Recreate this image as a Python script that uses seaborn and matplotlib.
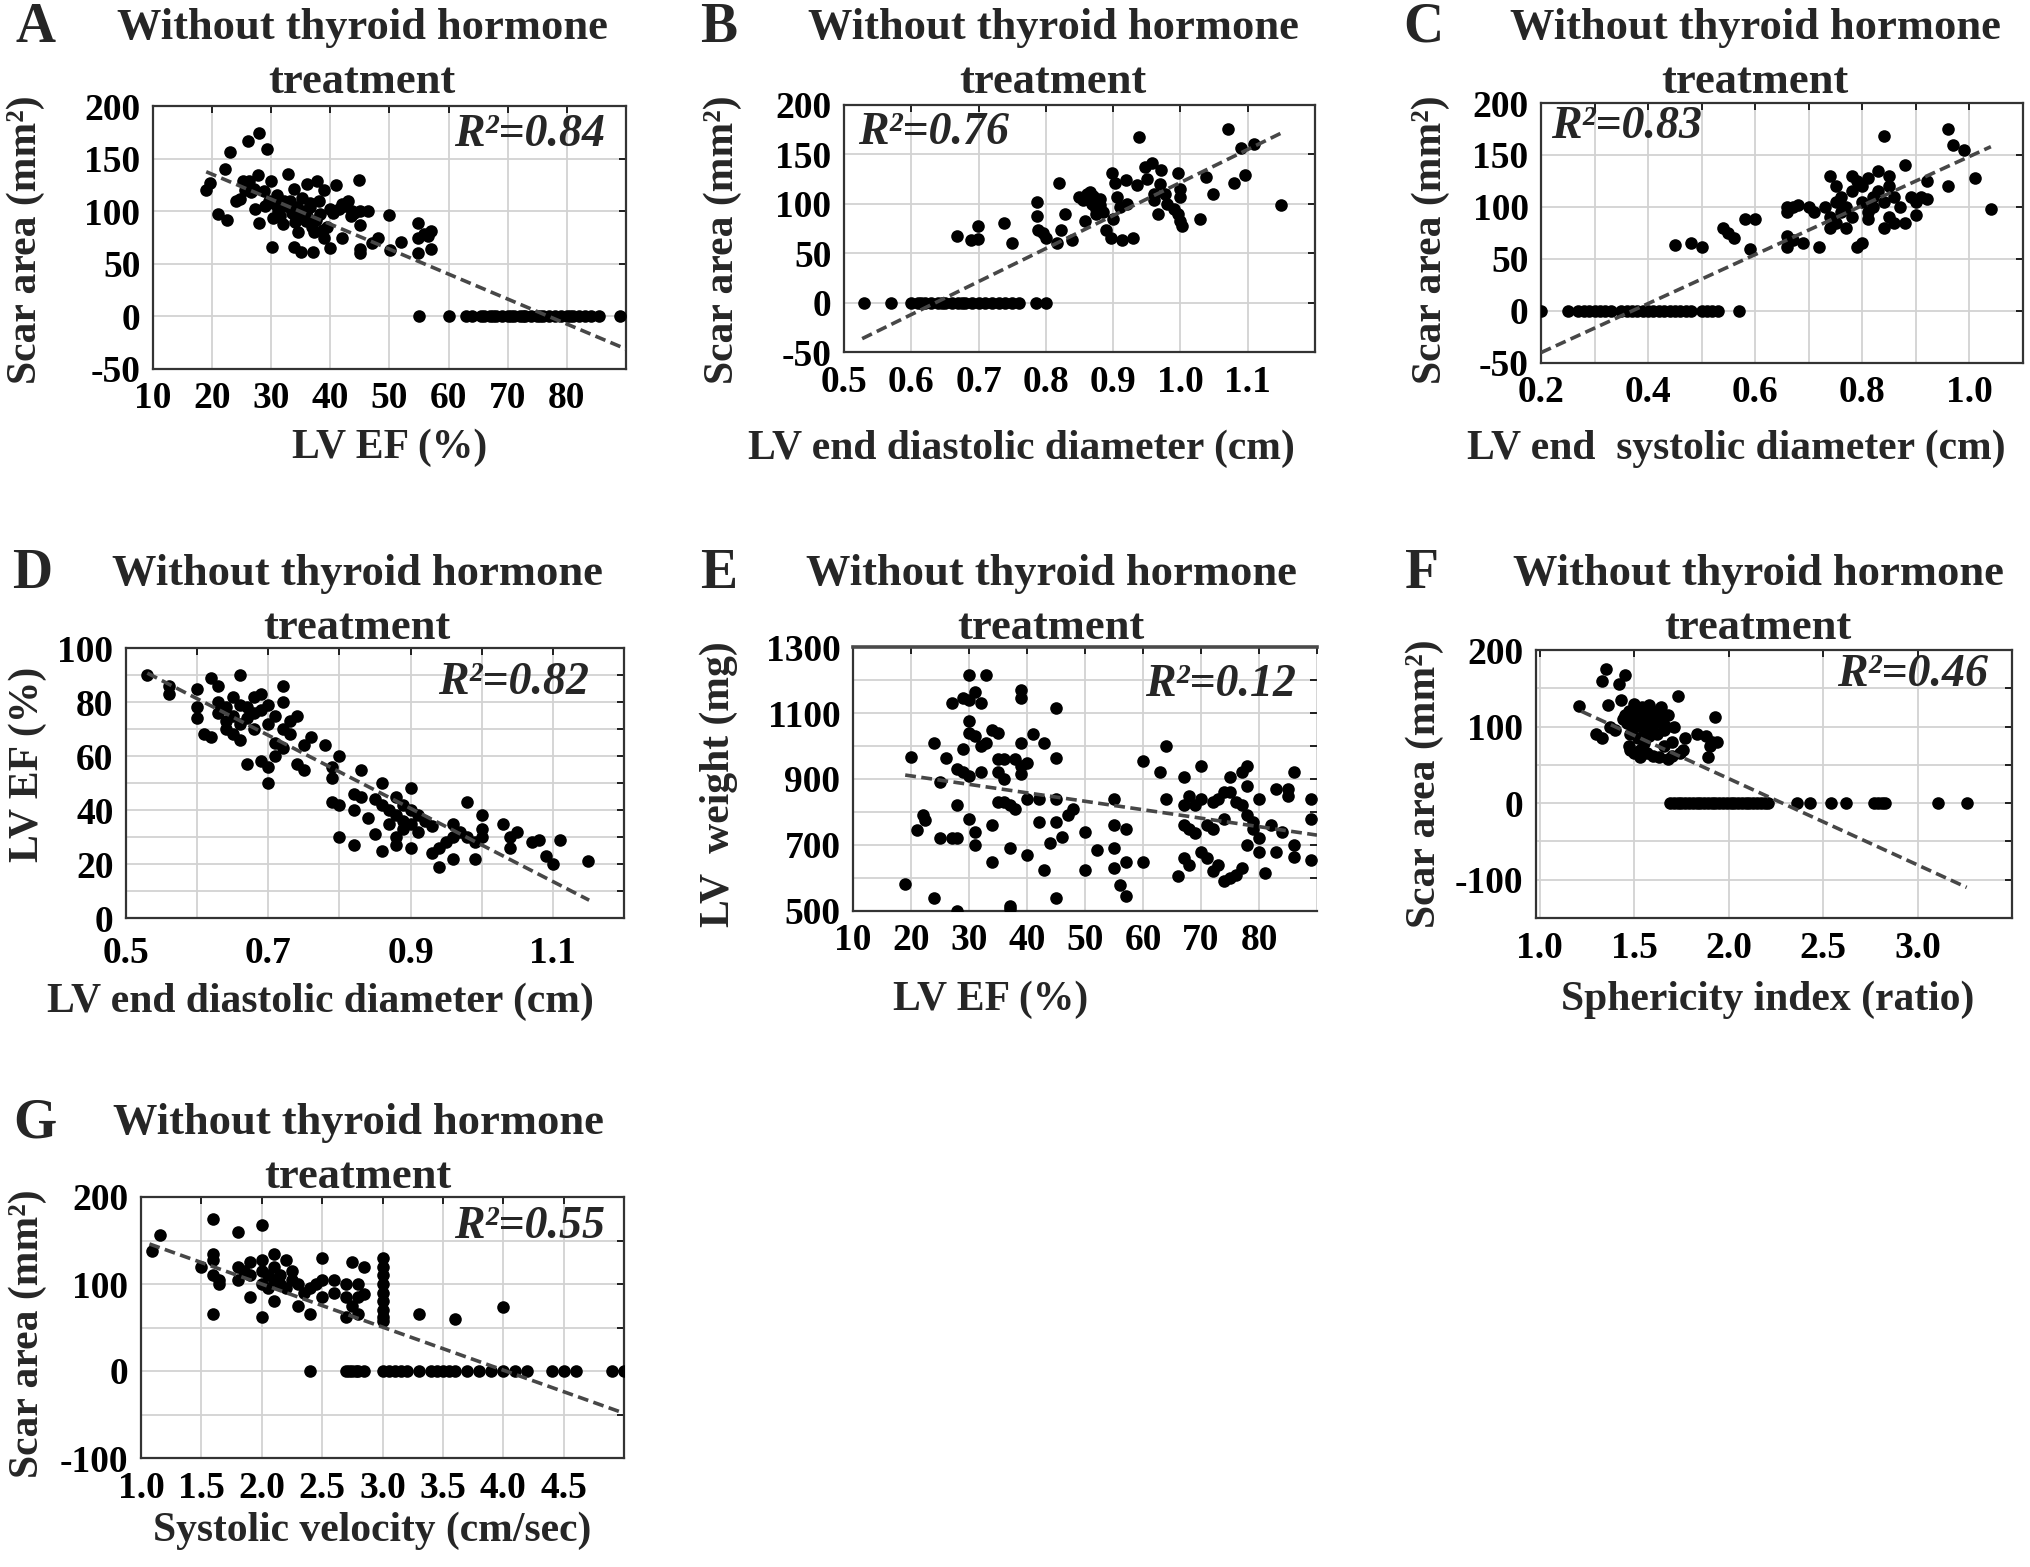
import numpy as np
import pandas as pd
import matplotlib
matplotlib.use("Agg")
import matplotlib.pyplot as plt
import seaborn as sns

# ------------------------------------------------------------------ data
# Panel A: LV EF (%) vs scar area (mm2)
A_pts = [(18.9,120),(19.6,127),(21.0,97),(22.6,92),(22.1,140),(23.1,156),(26.0,167),(28.0,174),
         (29.2,159),(24.1,110),(24.7,112),(25.2,129),(26.2,129),(27.0,121),(27.8,134),(27.3,102),
         (28.0,89),(28.8,119),(29.6,110),(30.0,129),(30.1,66),(30.3,94),(30.7,107),(31.2,100),
         (32.0,88),(32.1,110),(32.9,135),(33.1,110),(33.8,121),(33.9,66),(34.4,104),(34.8,94),
         (35.0,61),(35.2,113),(35.8,91),(36.1,126),(36.6,104),(36.9,85),(37.1,61),(37.2,80),
         (37.8,129),(38.3,97),(38.8,82),(39.0,120),(39.5,85),(39.9,102),(40.0,65),(41.0,125),
         (42.0,107),(42.0,75),(43.0,110),(43.7,100),(44.8,130),(45.0,100),(45.0,87),(45.0,64),
         (45.0,60),(46.3,100),(47.1,70),(48.0,75),(49.9,96),(50.1,63),(52.0,71),(54.9,89),
         (54.9,60),(54.9,75),(55.8,78),(57.0,81),(57.0,64),(56.5,76),(25.5,120),(26.5,118),
         (29.0,105),(31.0,115),(31.5,95),(32.5,105),(33.5,98),(34.0,90),(35.5,100),(36.0,95),
         (37.5,92),(38.0,110),(39.0,75),(40.5,98),(41.5,102),(42.5,105),(43.5,95),(44.0,98),
         (36.5,108),(34.5,80)]
A_zero_x = [55,60,63,64,65.5,66,67,67.5,68,69,70,70.5,71,72,72.5,73,74,75,75.5,76,77,78,79,80,
            80.5,81,82,83,84,85.5,89]
A_fit_x = [19.0, 90.0]
A_fit_y = [137.5, -31.0]

# Panel B: LV end diastolic diameter (cm) vs scar area
B_pts = [(0.668,67),(0.689,63),(0.699,78),(0.699,64),(0.738,81),(0.749,60),(0.787,102),(0.787,88),
         (0.789,73),(0.796,70),(0.800,65),(0.820,121),(0.823,73),(0.816,60),(0.829,90),(0.839,63),
         (0.849,107),(0.855,104),(0.861,110),(0.868,100),(0.858,83),(0.874,90),(0.881,99),(0.890,73),
         (0.897,65),(0.899,131),(0.903,121),(0.906,107),(0.910,97),(0.913,63),(0.919,124),(0.929,65),
         (0.935,119),(0.939,168),(0.948,137),(0.958,141),(0.961,104),(0.967,90),(0.971,134),(0.977,110),
         (0.996,131),(1.000,107),(0.996,90),(1.000,83),(1.003,78),(1.029,85),(1.038,127),(1.048,110),
         (1.070,176),(1.079,121),(1.090,156),(1.096,129),(1.109,161),(1.150,99),(0.860,105),(0.865,112),
         (0.870,108),(0.875,95),(0.880,105),(0.885,92),(0.900,85),(0.950,125),(0.960,110),(0.970,120),
         (0.980,100),(0.990,95),(1.000,115),(0.920,100)]
B_zero_x = [0.53,0.57,0.60,0.61,0.615,0.62,0.63,0.64,0.645,0.65,0.66,0.67,0.675,0.68,0.69,0.70,
            0.71,0.72,0.73,0.74,0.75,0.76,0.785,0.80]
B_fit_x = [0.527, 1.154]
B_fit_y = [-36.5, 173.0]

# Panel C: LV end systolic diameter (cm) vs scar area
C_pts = [(0.45,63),(0.48,65),(0.50,62),(0.54,80),(0.55,75),(0.56,70),(0.58,88),(0.60,88),(0.59,60),
         (0.66,100),(0.66,95),(0.66,72),(0.66,62),(0.67,100),(0.67,68),(0.68,102),(0.69,65),(0.70,100),
         (0.71,95),(0.72,62),(0.73,100),(0.74,130),(0.74,90),(0.74,80),(0.75,120),(0.75,105),(0.75,85),
         (0.76,95),(0.76,110),(0.77,100),(0.77,80),(0.78,130),(0.78,115),(0.78,90),(0.79,125),(0.79,62),
         (0.80,65),(0.80,105),(0.80,120),(0.81,128),(0.81,95),(0.81,88),(0.82,110),(0.82,100),(0.83,135),
         (0.83,115),(0.84,168),(0.84,80),(0.84,105),(0.85,130),(0.85,120),(0.85,90),(0.86,110),(0.86,85),
         (0.87,100),(0.88,140),(0.88,85),(0.89,110),(0.90,92),(0.90,105),(0.91,110),(0.92,108),(0.92,125),
         (0.96,175),(0.96,120),(0.97,160),(0.99,155),(1.01,128),(1.04,98)]
C_zero_x = [0.20,0.25,0.27,0.28,0.29,0.30,0.31,0.32,0.33,0.35,0.36,0.37,0.38,0.39,0.40,0.41,0.42,
            0.43,0.44,0.45,0.46,0.47,0.48,0.50,0.51,0.52,0.53,0.57]
C_fit_x = [0.20, 1.04]
C_fit_y = [-40.0, 158.0]

# Panel D: LV end diastolic diameter (cm) vs LV EF (%)
D_pts = [(0.53,90),(0.56,86),(0.56,83),(0.60,85),(0.60,78),(0.60,74),(0.61,68),(0.62,89),(0.62,67),
         (0.63,86),(0.63,80),(0.63,76),(0.64,78),(0.64,73),(0.64,70),(0.65,82),(0.65,75),(0.65,68),
         (0.66,90),(0.66,79),(0.66,72),(0.66,66),(0.67,78),(0.67,74),(0.67,57),(0.68,82),(0.68,76),
         (0.68,70),(0.69,83),(0.69,77),(0.69,58),(0.70,79),(0.70,72),(0.70,56),(0.70,50),(0.71,75),
         (0.71,65),(0.71,60),(0.72,86),(0.72,80),(0.72,70),(0.72,63),(0.73,73),(0.73,68),(0.74,75),
         (0.74,57),(0.75,55),(0.75,64),(0.76,67),(0.78,64),(0.79,56),(0.79,52),(0.80,60),(0.79,43),
         (0.80,42),(0.80,30),(0.82,46),(0.82,40),(0.82,27),(0.83,55),(0.83,45),(0.84,37),(0.85,31),
         (0.85,44),(0.86,50),(0.86,42),(0.86,25),(0.87,40),(0.87,35),(0.88,45),(0.88,38),(0.88,30),
         (0.88,27),(0.89,42),(0.89,36),(0.89,33),(0.90,48),(0.90,40),(0.90,35),(0.90,26),(0.91,38),
         (0.91,32),(0.92,36),(0.93,34),(0.93,24),(0.94,26),(0.94,19),(0.95,28),(0.96,35),(0.96,30),
         (0.96,22),(0.97,32),(0.98,43),(0.98,30),(0.99,22),(0.99,28),(1.00,38),(1.00,33),(1.00,30),
         (1.03,35),(1.04,26),(1.04,30),(1.05,32),(1.07,28),(1.08,29),(1.09,23),(1.10,20),(1.11,29),
         (1.15,21)]
D_fit_x = [0.53, 1.151]
D_fit_y = [90.7, 6.6]

# Panel E: LV EF (%) vs LV weight (mg)
E_pts = [(19,583),(20,968),(21,745),(22,790),(22.5,775),(24,1010),(24,540),(25,890),(25,720),(26,965),
         (27,1130),(27,720),(28,720),(28,930),(28,820),(28,500),(29,1145),(29,990),(29,920),(30,1215),
         (30,1140),(30,1075),(30,1040),(30,910),(30,780),(31,1165),(31,1030),(31,740),(31,700),(32,1130),
         (32,1000),(32,920),(33,1215),(33,1010),(34,1050),(34,760),(34,650),(35,1040),(35,960),(35,920),
         (35,830),(36,960),(36,900),(36,830),(37,820),(37,690),(37,515),(37,505),(38,960),(38,810),
         (39,1170),(39,1145),(39,1010),(39,940),(39,915),(40,950),(40,840),(40,670),(41,1035),(42,840),
         (42,770),(43,1010),(43,625),(44,705),(45,1115),(45,965),(45,840),(45,770),(45,540),(46,725),
         (47,790),(48,810),(50,740),(50,625),(52,685),(55,840),(55,760),(55,690),(55,630),(56,580),
         (57,545),(57,750),(57,650),(60,955),(60,650),(63,920),(64,1000),(64,840),(66,605),(67,905),
         (67,820),(67,760),(67,660),(68,850),(68,750),(68,640),(69,820),(69,735),(70,940),(70,840),
         (70,680),(71,760),(71,660),(72,830),(72,750),(72,620),(73,840),(73,640),(74,860),(74,780),
         (74,590),(75,905),(75,860),(75,600),(76,830),(76,610),(77,920),(77,820),(77,630),(78,940),
         (78,880),(78,790),(78,700),(79,770),(79,750),(80,840),(80,720),(80,680),(81,615),(82,760),
         (83,870),(83,680),(84,740),(85,870),(85,850),(86,920),(86,700),(86,665),(89,840),(89,780),
         (89,655)]
E_fit_x = [19.0, 90.0]
E_fit_y = [912.0, 730.0]

# Panel F: sphericity index (ratio) vs scar area
F_pts = [(1.21,127),(1.30,90),(1.33,160),(1.35,175),(1.36,128),(1.33,85),(1.37,100),(1.40,95),
         (1.42,155),(1.45,168),(1.43,135),(1.45,115),(1.46,105),(1.47,75),(1.48,90),(1.49,120),
         (1.50,100),(1.50,130),(1.51,110),(1.52,85),(1.53,70),(1.54,125),(1.55,105),(1.55,95),
         (1.56,115),(1.57,65),(1.58,128),(1.59,100),(1.60,120),(1.61,110),(1.62,90),(1.63,60),
         (1.64,125),(1.65,105),(1.66,95),(1.66,75),(1.68,115),(1.70,80),(1.71,100),(1.73,140),
         (1.74,65),(1.76,70),(1.77,85),(1.83,90),(1.88,88),(1.89,60),(1.90,75),(1.91,80),(1.93,112),
         (1.94,80),(1.44,110),(1.47,120),(1.52,118),(1.57,112),(1.60,102),(1.63,118),(1.67,100),
         (1.58,88),(1.55,78),(1.48,70),(1.50,65),(1.53,60),(1.60,62),(1.68,58),(1.70,62)]
F_zero_x = [1.69,1.71,1.73,1.75,1.77,1.79,1.81,1.83,1.85,1.87,1.89,1.91,1.93,1.95,1.97,1.99,2.01,
            2.03,2.05,2.07,2.09,2.11,2.13,2.15,2.17,2.19,2.21,2.36,2.43,2.54,2.62,2.77,2.79,2.81,
            2.83,3.11,3.26]
F_fit_x = [1.22, 3.26]
F_fit_y = [120.0, -110.0]

# Panel G: systolic velocity (cm/sec) vs scar area
G_pts = [(1.09,138),(1.16,156),(1.5,120),(1.6,175),(1.6,135),(1.6,128),(1.6,110),(1.6,65),(1.65,100),
         (1.65,105),(1.8,160),(1.8,120),(1.8,105),(1.85,115),(1.9,125),(1.9,85),(1.9,110),(2.0,168),
         (2.0,128),(2.0,115),(2.0,100),(2.0,62),(2.05,110),(2.05,95),(2.1,135),(2.1,120),(2.1,105),
         (2.1,80),(2.15,110),(2.15,100),(2.2,95),(2.2,128),(2.25,115),(2.25,105),(2.3,100),(2.3,75),
         (2.35,90),(2.4,95),(2.4,65),(2.45,100),(2.5,130),(2.5,105),(2.5,85),(2.6,105),(2.6,90),
         (2.7,100),(2.7,85),(2.7,62),(2.75,125),(2.75,75),(2.8,100),(2.8,85),(2.8,65),(2.85,120),
         (2.85,88),(3.0,130),(3.0,120),(3.0,110),(3.0,100),(3.0,90),(3.0,80),(3.0,70),(3.0,62),
         (3.0,57),(3.3,65),(3.6,60),(4.0,73)]
G_zero_x = [2.4,2.7,2.72,2.75,2.78,2.8,2.85,3.0,3.05,3.1,3.15,3.2,3.3,3.4,3.45,3.5,3.55,3.6,3.7,
            3.8,3.9,4.0,4.1,4.2,4.4,4.5,4.6,4.9,5.0]
G_fit_x = [1.07, 5.0]
G_fit_y = [146.0, -48.5]

R2_labels = {"A": "R²=0.84", "B": "R²=0.76", "C": "R²=0.83", "D": "R²=0.82",
             "E": "R²=0.12", "F": "R²=0.46", "G": "R²=0.55"}

# ------------------------------------------------------------------ style
sns.set_theme(style="white")
plt.rcParams["font.family"] = ["Liberation Serif", "DejaVu Serif"]
plt.rcParams["font.weight"] = "bold"
plt.rcParams["axes.labelweight"] = "bold"

W, H = 2031, 1567
fig = plt.figure(figsize=(W / 100, H / 100), dpi=100)


def make_ax(l, t, r, b):
    return fig.add_axes([l / W, 1 - b / H, (r - l) / W, (b - t) / H])


def frame(pts, zeros=None):
    xs = [p[0] for p in pts]
    ys = [p[1] for p in pts]
    if zeros is not None:
        xs = xs + list(zeros)
        ys = ys + [0.0] * len(zeros)
    return pd.DataFrame({"x": xs, "y": ys})


def draw(ax, pts, zeros, fit_x, fit_y):
    d = frame(pts, zeros)
    sns.scatterplot(data=d, x="x", y="y", ax=ax, color="black", s=82,
                    linewidth=0, legend=False, zorder=3)
    ax.plot(fit_x, fit_y, color="#474747", lw=2.6, linestyle=(0, (3.0, 1.5)), zorder=4)


def style(ax, xlim, ylim, xgrid, xlabels, ygrid, ylabels, xpad=9):
    ax.set_xlim(*xlim)
    ax.set_ylim(*ylim)
    ax.set_xticks(xgrid)
    ax.set_xticklabels(xlabels)
    ax.set_yticks(ygrid)
    ax.set_yticklabels(ylabels)
    ax.grid(True, color="#d2d2d2", lw=1.3)
    ax.set_axisbelow(True)
    ax.tick_params(direction="in", length=5, width=1.2, top=True, right=True,
                   labelsize=27, pad=9, colors="black")
    ax.tick_params(axis="x", pad=xpad)
    for sp in ax.spines.values():
        sp.set_color("#333333")
        sp.set_linewidth(1.6)
    ax.set_facecolor("white")


def labels(ax, xl, xc, yl, yc, r2, r2pos, r2ha):
    ax.set_xlabel(xl, fontsize=30, fontweight="bold")
    ax.set_ylabel(yl, fontsize=30, fontweight="bold")
    ax.xaxis.label.set_va("center")
    ax.yaxis.label.set_va("center")
    ax.xaxis.set_label_coords(*xc)
    ax.yaxis.set_label_coords(*yc)
    ax.text(r2pos[0], r2pos[1], r2, transform=ax.transAxes, ha=r2ha, va="center",
            fontsize=33, fontweight="bold", fontstyle="italic", zorder=5)


def title(letter, lx, tx, y1):
    fig.text(lx / W, 1 - y1 / H, letter, fontsize=40, fontweight="bold", ha="center", va="center")
    fig.text(tx / W, 1 - y1 / H, "Without thyroid hormone", fontsize=32, fontweight="bold",
             ha="center", va="center")
    fig.text(tx / W, 1 - (y1 + 54) / H, "treatment", fontsize=32, fontweight="bold",
             ha="center", va="center")


def lab(vals, keep, fmt):
    return [fmt.format(v) if k else "" for v, k in zip(vals, keep)]


# ---- A
ax = make_ax(153, 106, 626, 369)
draw(ax, A_pts, A_zero_x, A_fit_x, A_fit_y)
xg = list(range(10, 91, 10))
yg = list(range(-50, 201, 50))
style(ax, (10, 90), (-50, 200), xg, lab(xg, [v <= 80 for v in xg], "{}"), yg, [str(v) for v in yg])
labels(ax, "LV EF (%)", (0.5, -0.30), "Scar area (mm²)", (-0.268, 0.49), R2_labels["A"], (0.955, 0.89), "right")
title("A", 35, 362, 28)

# ---- B
ax = make_ax(844, 105, 1315, 352)
draw(ax, B_pts, B_zero_x, B_fit_x, B_fit_y)
xg = [0.5, 0.6, 0.7, 0.8, 0.9, 1.0, 1.1, 1.2]
style(ax, (0.5, 1.2), (-50, 200), xg, lab(xg, [v < 1.15 for v in xg], "{:.1f}"), yg, [str(v) for v in yg])
labels(ax, "LV end diastolic diameter (cm)", (0.376, -0.39), "Scar area (mm²)", (-0.257, 0.453),
       R2_labels["B"], (0.03, 0.887), "left")
title("B", 719, 1053, 28)

# ---- C
ax = make_ax(1541, 103, 2023, 363)
draw(ax, C_pts, C_zero_x, C_fit_x, C_fit_y)
xg = [0.2, 0.3, 0.4, 0.5, 0.6, 0.7, 0.8, 0.9, 1.0, 1.1]
style(ax, (0.2, 1.1), (-50, 200), xg,
      lab(xg, [abs(round(v * 10)) % 2 == 0 and v < 1.05 for v in xg], "{:.1f}"), yg, [str(v) for v in yg])
labels(ax, "LV end  systolic diameter (cm)", (0.405, -0.33), "Scar area (mm²)", (-0.228, 0.473),
       R2_labels["C"], (0.02, 0.908), "left")
title("C", 1423, 1755, 28)

# ---- D
ax = make_ax(126, 648, 624, 918)
draw(ax, D_pts, None, D_fit_x, D_fit_y)
xg = [0.5, 0.6, 0.7, 0.8, 0.9, 1.0, 1.1, 1.2]
ygD = list(range(0, 101, 10))
style(ax, (0.5, 1.2), (0, 100), xg,
      lab(xg, [round(v * 10) % 2 == 1 and v < 1.15 for v in xg], "{:.1f}"),
      ygD, lab(ygD, [v % 20 == 0 for v in ygD], "{}"), xpad=13)
labels(ax, "LV end diastolic diameter (cm)", (0.39, -0.31), "LV EF (%)", (-0.197, 0.57),
       R2_labels["D"], (0.93, 0.87), "right")
title("D", 32, 357, 574)

# ---- E
ax = make_ax(853, 647, 1317, 911)
draw(ax, E_pts, None, E_fit_x, E_fit_y)
xg = list(range(10, 91, 10))
ygE = list(range(500, 1301, 100))
style(ax, (10, 90), (500, 1300), xg, lab(xg, [v <= 80 for v in xg], "{}"),
      ygE, lab(ygE, [(v - 500) % 200 == 0 for v in ygE], "{}"))
ax.spines["right"].set_visible(False)
ax.spines["top"].set_linewidth(2.6)
ax.spines["top"].set_color("#4a4a4a")
labels(ax, "LV EF (%)", (0.297, -0.337), "LV  weight (mg)", (-0.289, 0.48),
       R2_labels["E"], (0.955, 0.856), "right")
title("E", 719, 1051, 574)

# ---- F
ax = make_ax(1536, 650, 2012, 918)
draw(ax, F_pts, F_zero_x, F_fit_x, F_fit_y)
xg = [1.0, 1.5, 2.0, 2.5, 3.0, 3.5]
ygF = list(range(-150, 201, 50))
style(ax, (0.98, 3.5), (-150, 200), xg, lab(xg, [v < 3.25 for v in xg], "{:.1f}"),
      ygF, lab(ygF, [v % 100 == 0 for v in ygF], "{}"))
labels(ax, "Sphericity index (ratio)", (0.487, -0.306), "Scar area (mm²)", (-0.233, 0.5),
       R2_labels["F"], (0.95, 0.907), "right")
title("F", 1422, 1758, 574)

# ---- G
ax = make_ax(141, 1197, 624, 1458)
draw(ax, G_pts, G_zero_x, G_fit_x, G_fit_y)
xg = [1.0, 1.5, 2.0, 2.5, 3.0, 3.5, 4.0, 4.5, 5.0]
ygG = list(range(-100, 201, 50))
style(ax, (1.0, 5.0), (-100, 200), xg, lab(xg, [v < 4.75 for v in xg], "{:.1f}"),
      ygG, lab(ygG, [v % 100 == 0 for v in ygG], "{}"))
labels(ax, "Systolic velocity (cm/sec)", (0.478, -0.28), "Scar area (mm²)", (-0.234, 0.475),
       R2_labels["G"], (0.96, 0.885), "right")
title("G", 35, 358, 1123)

fig.savefig("out.png", dpi=100, facecolor="white")
